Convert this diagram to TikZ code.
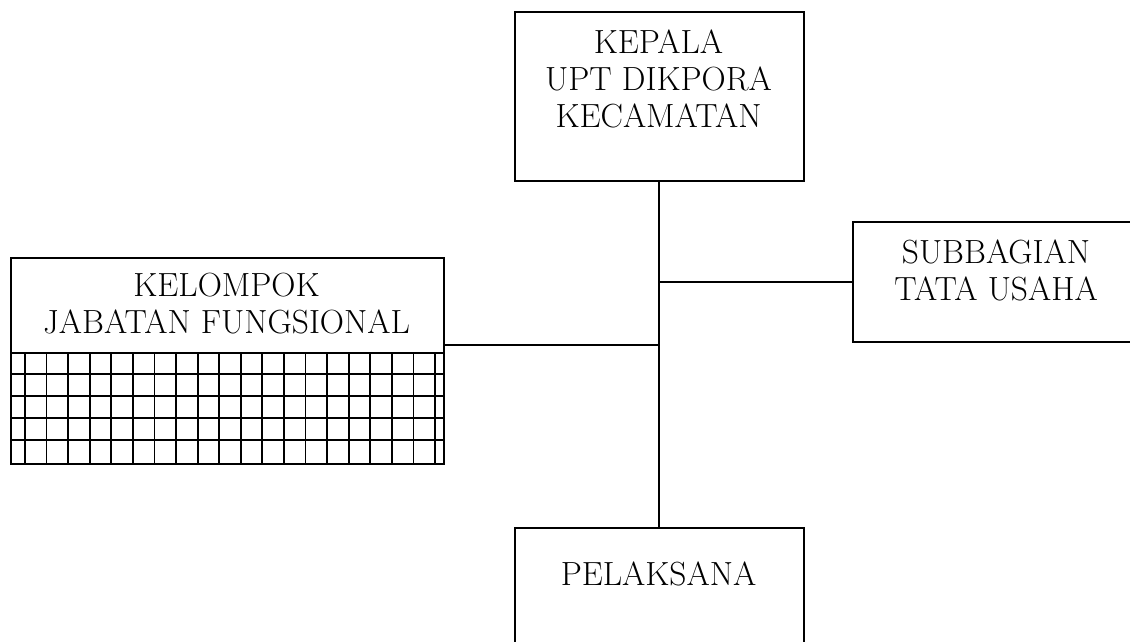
\documentclass[tikz,border=0pt]{standalone}
\begin{document}
\begin{tikzpicture}[x=1pt,y=-1pt,
  box/.style={draw, line width=1.6pt, rectangle, inner sep=0pt},
  txt/.style={font=\fontsize{33.5}{36.8}\selectfont, align=center, inner sep=0pt},
  vconn/.style={line width=2pt},
  hconn/.style={line width=1.5pt},
  gridl/.style={line width=1.8pt}]
\useasboundingbox (0,0) rectangle (1130,641);
\clip (0,0) rectangle (1130,641);
% boxes
\node[box, minimum width=289, minimum height=169, anchor=north west] (kepala) at (514,11) {};
\node[txt, anchor=base] (kepalaT) at (658.5,127) {KEPALA\\UPT DIKPORA\\KECAMATAN};
\node[box, minimum width=290, minimum height=120, anchor=north west] (sub) at (852,221) {};
\node[txt, anchor=base] (subT) at (996,300) {SUBBAGIAN\\TATA USAHA};
\node[box, minimum width=433, minimum height=95, anchor=north west] (kel) at (10,257) {};
\node[txt, anchor=base] (kelT) at (226.5,333) {KELOMPOK\\JABATAN FUNGSIONAL};
\node[box, minimum width=433, minimum height=111, anchor=north west] (kgrid) at (10,352) {};
\node[box, minimum width=289, minimum height=160, anchor=north west] (pel) at (514,527) {};
\node[txt, anchor=base] (pelT) at (658.5,585) {PELAKSANA};
% grid
\foreach \k in {0,...,19} {\draw[gridl] (25+21.58*\k,352) -- (25+21.58*\k,463);}
\foreach \k in {1,...,4} {\draw[gridl] (10,352+22*\k) -- (443,352+22*\k);}
% connectors
\draw[vconn] (kepala.south) -- (pel.north);
\draw[hconn] (kepala.south |- sub.west) -- (sub.west);
\coordinate (kc) at ([yshift=-39.5pt]kel.east);
\draw[hconn] (kc) -- (kc -| kepala.south);
\end{tikzpicture}
\end{document}
